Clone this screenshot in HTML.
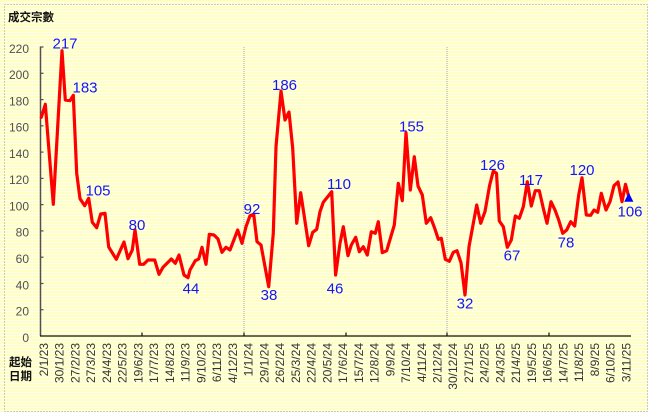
<!DOCTYPE html>
<html><head><meta charset="utf-8"><style>
html,body{margin:0;padding:0;background:#fff;}
svg{display:block;}
.yl{font-family:"Liberation Sans",sans-serif;font-size:12px;fill:#505050;text-anchor:end;}
.xl{font-family:"Liberation Sans",sans-serif;font-size:12px;fill:#333;text-anchor:end;}
.dl{font-family:"Liberation Sans",sans-serif;font-size:15px;fill:#1414ff;text-anchor:middle;}
.cj{font-family:"Liberation Sans","Noto Sans CJK TC",sans-serif;font-size:11.5px;font-weight:bold;fill:#111;}
</style></head><body>
<svg width="655" height="419" viewBox="0 0 655 419" xmlns="http://www.w3.org/2000/svg">
<defs>
<pattern id="st" width="4" height="3" patternUnits="userSpaceOnUse">
<rect width="4" height="3" fill="#fffff0"/>
<rect width="4" height="2" fill="#ffffc4"/>
</pattern>
</defs>
<rect width="655" height="419" fill="#fff"/>
<rect x="0" y="0" width="648" height="412" fill="url(#st)"/>
<rect x="4.5" y="4.5" width="643" height="407" fill="none" stroke="#999" stroke-width="1" stroke-dasharray="1 2"/>

<text class="cj" x="8" y="21">成交宗數</text>
<text class="cj" x="9" y="366">起始</text>
<text class="cj" x="9" y="380">日期</text>

<!-- dotted separators -->
<line x1="244" y1="47" x2="244" y2="336" stroke="#aaa" stroke-width="1" stroke-dasharray="1 1"/>
<line x1="447" y1="47" x2="447" y2="336" stroke="#aaa" stroke-width="1" stroke-dasharray="1 1"/>

<!-- y axis -->
<line x1="40.5" y1="46.5" x2="40.5" y2="336" stroke="#505050" stroke-width="1.5"/>
<g stroke="#505050" stroke-width="1.2">
<line x1="40" y1="47" x2="43.5" y2="47"/>
<line x1="40" y1="73.3" x2="43.5" y2="73.3"/>
<line x1="40" y1="99.6" x2="43.5" y2="99.6"/>
<line x1="40" y1="125.8" x2="43.5" y2="125.8"/>
<line x1="40" y1="152.1" x2="43.5" y2="152.1"/>
<line x1="40" y1="178.4" x2="43.5" y2="178.4"/>
<line x1="40" y1="204.6" x2="43.5" y2="204.6"/>
<line x1="40" y1="230.9" x2="43.5" y2="230.9"/>
<line x1="40" y1="257.2" x2="43.5" y2="257.2"/>
<line x1="40" y1="283.5" x2="43.5" y2="283.5"/>
<line x1="40" y1="309.7" x2="43.5" y2="309.7"/>
</g>
<text class="yl" x="29" y="52.8">220</text>
<text class="yl" x="29" y="79.1">200</text>
<text class="yl" x="29" y="105.4">180</text>
<text class="yl" x="29" y="131.6">160</text>
<text class="yl" x="29" y="157.9">140</text>
<text class="yl" x="29" y="184.2">120</text>
<text class="yl" x="29" y="210.4">100</text>
<text class="yl" x="29" y="236.7">80</text>
<text class="yl" x="29" y="263">60</text>
<text class="yl" x="29" y="289.3">40</text>
<text class="yl" x="29" y="315.5">20</text>
<text class="yl" x="29" y="341.8">0</text>

<!-- x axis -->
<line x1="40" y1="336" x2="631" y2="336" stroke="#111" stroke-width="1.3"/>
<g stroke="#111" stroke-width="1.2">
<line x1="142" y1="336" x2="142" y2="332.5"/>
<line x1="244" y1="336" x2="244" y2="332.5"/>
<line x1="346" y1="336" x2="346" y2="332.5"/>
<line x1="447" y1="336" x2="447" y2="332.5"/>
<line x1="549" y1="336" x2="549" y2="332.5"/>
</g>

<!-- x labels -->
<g>
<text class="xl" transform="translate(48,343) rotate(-90)">2/1/23</text>
<text class="xl" transform="translate(63.7,343) rotate(-90)">30/1/23</text>
<text class="xl" transform="translate(79.5,343) rotate(-90)">27/2/23</text>
<text class="xl" transform="translate(95.2,343) rotate(-90)">27/3/23</text>
<text class="xl" transform="translate(111,343) rotate(-90)">24/4/23</text>
<text class="xl" transform="translate(126.7,343) rotate(-90)">22/5/23</text>
<text class="xl" transform="translate(142.4,343) rotate(-90)">19/6/23</text>
<text class="xl" transform="translate(158.2,343) rotate(-90)">17/7/23</text>
<text class="xl" transform="translate(173.9,343) rotate(-90)">14/8/23</text>
<text class="xl" transform="translate(189.7,343) rotate(-90)">11/9/23</text>
<text class="xl" transform="translate(205.4,343) rotate(-90)">9/10/23</text>
<text class="xl" transform="translate(221.1,343) rotate(-90)">6/11/23</text>
<text class="xl" transform="translate(236.9,343) rotate(-90)">4/12/23</text>
<text class="xl" transform="translate(252.6,343) rotate(-90)">1/1/24</text>
<text class="xl" transform="translate(268.4,343) rotate(-90)">29/1/24</text>
<text class="xl" transform="translate(284.1,343) rotate(-90)">26/2/24</text>
<text class="xl" transform="translate(299.8,343) rotate(-90)">25/3/24</text>
<text class="xl" transform="translate(315.6,343) rotate(-90)">22/4/24</text>
<text class="xl" transform="translate(331.3,343) rotate(-90)">20/5/24</text>
<text class="xl" transform="translate(347.1,343) rotate(-90)">17/6/24</text>
<text class="xl" transform="translate(362.8,343) rotate(-90)">15/7/24</text>
<text class="xl" transform="translate(378.5,343) rotate(-90)">12/8/24</text>
<text class="xl" transform="translate(394.3,343) rotate(-90)">9/9/24</text>
<text class="xl" transform="translate(410,343) rotate(-90)">7/10/24</text>
<text class="xl" transform="translate(425.8,343) rotate(-90)">4/11/24</text>
<text class="xl" transform="translate(441.5,343) rotate(-90)">2/12/24</text>
<text class="xl" transform="translate(457.2,343) rotate(-90)">30/12/24</text>
<text class="xl" transform="translate(473,343) rotate(-90)">27/1/25</text>
<text class="xl" transform="translate(488.7,343) rotate(-90)">24/2/25</text>
<text class="xl" transform="translate(504.5,343) rotate(-90)">24/3/25</text>
<text class="xl" transform="translate(520.2,343) rotate(-90)">21/4/25</text>
<text class="xl" transform="translate(535.9,343) rotate(-90)">19/5/25</text>
<text class="xl" transform="translate(551.7,343) rotate(-90)">16/6/25</text>
<text class="xl" transform="translate(567.4,343) rotate(-90)">14/7/25</text>
<text class="xl" transform="translate(583.2,343) rotate(-90)">11/8/25</text>
<text class="xl" transform="translate(598.9,343) rotate(-90)">8/9/25</text>
<text class="xl" transform="translate(614.6,343) rotate(-90)">6/10/25</text>
<text class="xl" transform="translate(630.4,343) rotate(-90)">3/11/25</text>
</g>

<!-- series -->
<polyline fill="none" stroke="#ff0000" stroke-width="3.2" stroke-linejoin="round" stroke-linecap="round" points="
41.3,117.3 45.3,104.3 53.3,204.3 62,50.7 65.3,100 70,100.7 73.3,95.3 76.7,173.3 80,198.7 84.7,205.7 88.7,198.3 92.3,222.3 96.7,227.7 100.7,214 105,213.3 108.7,247 116.3,259.3 124,242 128,258.7 132.3,250 135,230 139.7,264.3 143.7,264.3 148,260 154.7,260 159,274.3 163,267.3 171.3,259 175.3,263.3 179,255 184,275 188,277.7
190,270 195.3,260.7 198.7,259 202,247.3 206,264.3 209.3,234.3 214,235 218,239 222,252.3 226,247.3 230,250 237.7,230 242,243.3 246,226.7 250,215.7 253.7,214.3 257,241.7 261,245 265.3,268.3 268.7,286.7 273.3,233.3 276,146.7 281,91 285,120 289,112 292.7,148.3 296.7,223.3 300.7,192.7 308.7,245.7 312.7,232.3 316.7,229.3 320,211.7 323.3,202.3 331.7,191.7 335.6,275
340,243.3 343.3,226.7 348,255.7 351.3,245 355.7,237.3 359.3,251.7 363.3,246.7 367.3,255 371.3,231.7 375.3,233.3 378.3,221.7 382.3,252.7 386.7,250.7 394.3,225 398.3,183.3 402.3,200.7 406,132.7 410.3,190 414.3,156.7 418,186 422.3,195 426.3,223.3 430.7,217.7 434.7,228.3 438.3,239.3 441.3,238.3 445.3,259.3 449.3,261.3 453.3,252.3 457,250.7 461,262.7 465,295 469,246.7 473,225 476.7,205 480.7,223.3 485,211.5 489.7,185 493.3,171 496.5,173.3
499.3,221 503.3,226.7 507.3,247.3 511.3,240 515.3,216 519.3,218.3 523.3,206.7 527.3,181.7 531.3,206 535.3,190.7 539.3,190.7 543.3,208.3 547,223.3 551,201.7 555,210 558.7,220 562.7,233.3 566.7,230 570.7,221.7 574.7,226 578.7,195 582,177.7 586.3,215 590.7,215.3 594,210 597.7,212.3 601.3,193.3 606,210 610,201.7 614,185.7 618,182 622,201.7 625.5,184.3 628.8,197"/>

<polygon points="624.2,201.8 633.4,201.8 628.8,192.6" fill="#0000ff"/>

<!-- data labels -->
<text class="dl" x="65" y="48.3">217</text>
<text class="dl" x="85" y="92.7">183</text>
<text class="dl" x="98" y="195.7">105</text>
<text class="dl" x="137" y="230">80</text>
<text class="dl" x="191" y="293.3">44</text>
<text class="dl" x="252" y="214">92</text>
<text class="dl" x="269" y="300">38</text>
<text class="dl" x="284.5" y="90">186</text>
<text class="dl" x="339" y="189">110</text>
<text class="dl" x="335" y="293.3">46</text>
<text class="dl" x="411.5" y="131.7">155</text>
<text class="dl" x="465" y="308.3">32</text>
<text class="dl" x="492.5" y="170">126</text>
<text class="dl" x="512" y="260.7">67</text>
<text class="dl" x="531" y="185">117</text>
<text class="dl" x="566" y="247.3">78</text>
<text class="dl" x="582" y="175">120</text>
<text class="dl" x="630" y="216.7">106</text>
</svg>
</body></html>
